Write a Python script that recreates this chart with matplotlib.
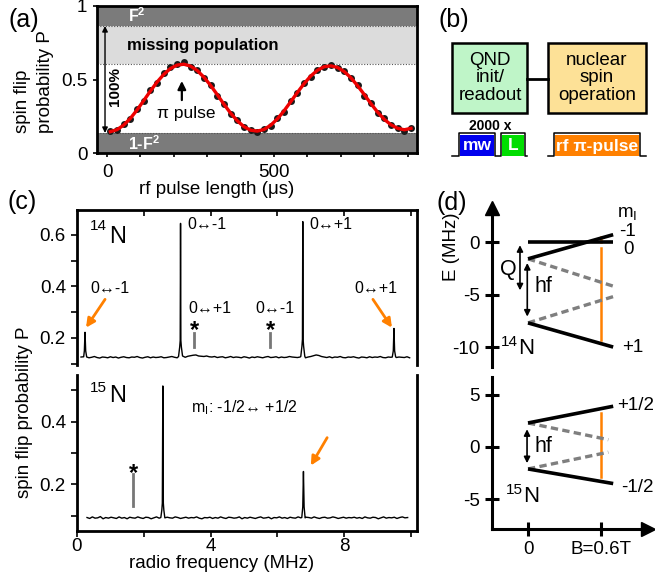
import numpy as np
import matplotlib
matplotlib.use("Agg")
import matplotlib.pyplot as plt
from matplotlib.patches import Rectangle
from matplotlib.ticker import MultipleLocator, FixedLocator

plt.rcParams["font.family"] = ["Liberation Sans", "DejaVu Sans"]
plt.rcParams["mathtext.fontset"] = "custom"
plt.rcParams["mathtext.rm"] = "Liberation Sans"
plt.rcParams["mathtext.it"] = "Liberation Sans:italic"
plt.rcParams["mathtext.bf"] = "Liberation Sans:bold"

# ---------------- data ----------------
# (a) Rabi oscillation of nuclear spin
pulse_t = list(range(10, 911, 20))
pulse_dots = [0.150, 0.155, 0.196, 0.233, 0.301, 0.351, 0.426, 0.476, 0.541, 0.585,
              0.604, 0.619, 0.588, 0.568, 0.510, 0.465, 0.389, 0.336, 0.266, 0.225,
              0.175, 0.158, 0.143, 0.165, 0.182, 0.236, 0.282, 0.355, 0.409, 0.477,
              0.518, 0.567, 0.584, 0.599, 0.577, 0.561, 0.508, 0.464, 0.391, 0.340,
              0.273, 0.235, 0.188, 0.173, 0.152, 0.172]
pulse_fit = [0.145, 0.159, 0.190, 0.236, 0.293, 0.357, 0.422, 0.483, 0.535, 0.575,
             0.598, 0.604, 0.591, 0.561, 0.516, 0.460, 0.397, 0.332, 0.271, 0.219,
             0.179, 0.155, 0.149, 0.160, 0.189, 0.232, 0.287, 0.349, 0.412, 0.472,
             0.524, 0.563, 0.587, 0.593, 0.582, 0.554, 0.512, 0.458, 0.398, 0.336,
             0.278, 0.229, 0.192, 0.168, 0.158, 0.168]
level_low = 0.136     # 1-F^2
level_pop = 0.605     # max observed
level_high = 0.864    # F^2
pi_pulse_t = 224

# (c) nuclear spin spectra, 14N (top)
f14_start, f14_stop, n14 = 0.12, 9.96, 124
base14_milli = [126, 124, 127, 123, 125, 128, 124, 122, 126, 125, 123, 127, 124, 126, 122, 125, 127, 124, 123, 126,
                125, 128, 124, 122, 125, 127, 123, 126, 124, 125, 127, 123, 124, 126, 128, 125, 123, 124, 126, 125,
                129, 131, 133, 134, 130, 129, 128, 130, 127, 126, 128, 124, 126, 127, 123, 125, 128, 124, 126, 125,
                123, 127, 125, 122, 126, 124, 127, 125, 123, 126, 128, 124, 125, 127, 123, 126, 124, 125, 128, 126,
                125, 124, 126, 125, 123, 126, 128, 131, 134, 132, 128, 126, 124, 127, 123, 126, 125, 128, 124, 123,
                126, 125, 127, 124, 122, 126, 125, 123, 127, 124, 126, 125, 128, 124, 123, 126, 125, 127, 124, 126,
                125, 124, 127, 123]
peaks14_center = [0.24, 3.10, 6.76, 9.49]
peaks14_halfwidth = [0.06, 0.07, 0.07, 0.06]
peaks14_f = [0.20, 0.22, 0.24, 0.26, 0.29,
             3.04, 3.075, 3.09, 3.10, 3.11, 3.125, 3.16,
             6.70, 6.735, 6.75, 6.76, 6.77, 6.785, 6.82,
             9.44, 9.47, 9.49, 9.51, 9.54]
peaks14_p = [0.127, 0.150, 0.222, 0.150, 0.126,
             0.128, 0.165, 0.190, 0.645, 0.190, 0.165, 0.130,
             0.128, 0.168, 0.195, 0.652, 0.195, 0.168, 0.129,
             0.126, 0.150, 0.237, 0.150, 0.127]

# 15N (bottom)
f15_start, f15_stop, n15 = 0.30, 9.90, 121
base15_milli = [94, 91, 96, 92, 93, 97, 90, 94, 92, 95, 93, 91, 96, 92, 94, 90, 95, 93, 92, 96,
                93, 91, 95, 94, 90, 93, 96, 92, 94, 91, 95, 93, 92, 96, 94, 91, 93, 95, 92, 94,
                93, 96, 92, 90, 94, 93, 95, 91, 94, 92, 96, 93, 91, 95, 94, 92, 93, 96, 90, 94,
                92, 95, 93, 91, 94, 96, 92, 93, 95, 90, 94, 93, 96, 92, 94, 91, 95, 93, 92, 96,
                93, 91, 95, 94, 92, 96, 93, 91, 94, 95, 92, 93, 96, 94, 91, 93, 95, 92, 94, 93,
                95, 92, 94, 91, 96, 93, 92, 95, 94, 90, 93, 96, 92, 94, 93, 95, 91, 94, 96, 93,
                94]
peaks15_center = [2.57, 6.78]
peaks15_halfwidth = [0.07, 0.06]
peaks15_f = [2.51, 2.54, 2.555, 2.57, 2.585, 2.60, 2.63,
             6.73, 6.76, 6.78, 6.80, 6.83]
peaks15_p = [0.094, 0.118, 0.140, 0.514, 0.140, 0.118, 0.093,
             0.094, 0.128, 0.241, 0.128, 0.093]

# (d) energy levels (E in MHz) at B = 0 and at the end of the drawn range
B_end = [0.0, 0.70]
B_dash_end = [0.0, 0.66]
E14_m0 = [0.0, 0.0]
E14_mminus = [-1.6, 0.7]
E14_mplus = [-7.7, -10.0]
E14_dash1 = [-1.6, -4.2]
E14_dash2 = [-7.7, -5.2]
E15_up = [2.3, 3.9]
E15_dn = [-2.1, -3.5]
E15_dash1 = [2.3, 0.7]
E15_dash2 = [-2.1, -0.5]
B_rf = 0.6

# ---------------- figure ----------------
W, H = 655, 576
fig = plt.figure(figsize=(W / 100, H / 100), dpi=100)


def fax(x0, y0, x1, y1):
    return fig.add_axes([x0 / W, 1 - y1 / H, (x1 - x0) / W, (y1 - y0) / H])


def ptext(x, y, s, **kw):
    kw.setdefault("ha", "center")
    kw.setdefault("va", "center")
    return fig.text(x / W, 1 - y / H, s, **kw)


ORANGE = "#ff8000"
TICK = 13.5

# ---------- panel (a) ----------
axa = fax(97, 6, 417, 153)
axa.set_xlim(-30, 928)
axa.set_ylim(0, 1)
axa.axhspan(0, level_low, color="#7b7b7b", lw=0, zorder=0)
axa.axhspan(level_high, 1, color="#7b7b7b", lw=0, zorder=0)
axa.axhspan(level_pop, level_high, color="#dcdcdc", lw=0, zorder=0)
for lv in (level_low, level_pop, level_high):
    axa.axhline(lv, color="#555555", lw=0.8, ls=(0, (1, 1.5)), zorder=1)
axa.plot(pulse_t, pulse_dots, "o", color="#1a1a1a", ms=5, mec="none", zorder=3)
axa.plot(pulse_t, pulse_fit, "-", color="#ee0000", lw=2.4, zorder=4)
axa.set_xticks([0, 500])
axa.xaxis.set_minor_locator(MultipleLocator(100))
axa.set_yticks([0, 0.5, 1])
axa.set_yticklabels(["0", "0.5", "1"])
axa.tick_params(axis="both", which="both", direction="out", length=3, width=1.2,
                labelsize=TICK)
axa.tick_params(axis="x", pad=5)
axa.tick_params(axis="y", pad=4)
for sp in axa.spines.values():
    sp.set_linewidth(2)
axa.text(63, 0.935, "F$^\\mathbf{2}$", color="white", fontsize=11.5, fontweight="bold",
         va="center")
axa.text(63, 0.065, "1-F$^\\mathbf{2}$", color="white", fontsize=11.5, fontweight="bold",
         va="center")
axa.text(60, 0.73, "missing population", fontsize=12, fontweight="bold", va="center")
axa.annotate("", xy=(-6, level_high), xytext=(-6, level_low),
             arrowprops=dict(arrowstyle="<|-|>", color="k", lw=1, mutation_scale=8,
                             shrinkA=0, shrinkB=0))
axa.text(24, 0.45, "100%", rotation=90, fontsize=11, fontweight="bold",
         ha="center", va="center")
axa.annotate("", xy=(pi_pulse_t, 0.49), xytext=(pi_pulse_t, 0.36),
             arrowprops=dict(arrowstyle="-|>", color="k", lw=1.6, mutation_scale=12,
                             shrinkA=0, shrinkB=0))
axa.text(236, 0.27, "π pulse", fontsize=12.5, ha="center", va="center")
ptext(24, 20, "(a)", fontsize=18)
ptext(34, 82, "spin flip\nprobability P", fontsize=TICK, rotation=90, linespacing=1.4,
      multialignment="left")
ptext(217, 189, "rf pulse length (μs)", fontsize=TICK)

# ---------- panel (b) ----------
axb = fax(420, 0, 655, 180)
axb.set_xlim(0, 235)
axb.set_ylim(180, 0)
axb.axis("off")
axb.add_patch(Rectangle((32.3, 42.7), 75, 70.6, fc="#bff5c8", ec="k", lw=1.8))
axb.add_patch(Rectangle((128.3, 42.7), 97.4, 70.6, fc="#fde197", ec="k", lw=1.8))
axb.plot([107.3, 128.3], [79, 79], color="k", lw=2)
axb.text(70, 78, "QND\ninit/\nreadout", ha="center", va="center", fontsize=13.5,
         linespacing=1.05)
axb.text(177, 78, "nuclear\nspin\noperation", ha="center", va="center", fontsize=13.5,
         linespacing=1.05)
axb.add_patch(Rectangle((40, 135), 34, 21, fc="#0000ee", ec="none"))
axb.add_patch(Rectangle((82, 135), 22, 21, fc="#00dd00", ec="none"))
axb.add_patch(Rectangle((135, 135), 83.5, 21, fc=ORANGE, ec="none"))
axb.plot([32.3, 39, 39, 75, 75, 81, 81, 105, 105, 107.3],
         [156, 156, 133, 133, 156, 156, 133, 133, 156, 156], color="k", lw=1.1)
axb.plot([128.3, 134, 134, 219.5, 219.5, 225.7],
         [156, 156, 133, 133, 156, 156], color="k", lw=1.1)
axb.text(70, 126, "2000 x", ha="center", va="center", fontsize=10, fontweight="bold")
axb.text(57, 146, "mw", ha="center", va="center", fontsize=12.5, fontweight="bold",
         color="white")
axb.text(93, 146, "L", ha="center", va="center", fontsize=12.5, fontweight="bold",
         color="white")
axb.text(177, 146, "rf π-pulse", ha="center", va="center", fontsize=12.5,
         fontweight="bold", color="white")
ptext(454, 20, "(b)", fontsize=18)


# ---------- panel (c) ----------
def build_spectrum(f0, f1, n, base_milli, centers, halfw, pf, pp):
    f = np.linspace(f0, f1, n)
    p = np.asarray(base_milli, dtype=float) / 1000.0
    keep = np.ones(n, dtype=bool)
    for c, hw in zip(centers, halfw):
        keep &= np.abs(f - c) >= hw
    ff = np.concatenate([f[keep], pf])
    pv = np.concatenate([p[keep], pp])
    order = np.argsort(ff)
    return ff[order], pv[order]


f14, p14 = build_spectrum(f14_start, f14_stop, n14, base14_milli, peaks14_center,
                          peaks14_halfwidth, peaks14_f, peaks14_p)
f15, p15 = build_spectrum(f15_start, f15_stop, n15, base15_milli, peaks15_center,
                          peaks15_halfwidth, peaks15_f, peaks15_p)

axc1 = fax(77, 210, 417, 365)
axc1.set_xlim(0, 10.18)
axc1.set_ylim(0.095, 0.697)
axc1.plot(f14, p14, color="k", lw=1.0)
axc1.spines["bottom"].set_visible(False)
for s in ("left", "right", "top"):
    axc1.spines[s].set_linewidth(2)
axc1.set_yticks([0.2, 0.4, 0.6])
axc1.set_yticklabels(["0.2", "0.4", "0.6"])
axc1.yaxis.set_minor_locator(MultipleLocator(0.1))
axc1.set_xticks([2, 4, 6, 8, 10])
axc1.tick_params(axis="x", which="both", top=True, bottom=False, labelbottom=False,
                 direction="in", length=4, width=1.2)
axc1.tick_params(axis="y", which="both", direction="out", length=4, width=1.2,
                 labelsize=TICK, pad=4)

axc1.text(3.30, 0.639, "0↔-1", fontsize=11.5, ha="left", va="center")
axc1.text(6.96, 0.639, "0↔+1", fontsize=11.5, ha="left", va="center")
axc1.text(0.99, 0.394, "0↔-1", fontsize=11.5, ha="center", va="center")
axc1.text(8.95, 0.394, "0↔+1", fontsize=11.5, ha="center", va="center")
axc1.text(3.97, 0.316, "0↔+1", fontsize=11.5, ha="center", va="center")
axc1.text(5.93, 0.316, "0↔-1", fontsize=11.5, ha="center", va="center")
for xm in (3.51, 5.78):
    axc1.plot([xm, xm], [0.165, 0.219], color="#777777", lw=2)
    axc1.text(xm + 0.02, 0.203, "*", fontsize=17, fontweight="bold", ha="center",
              va="baseline")
axc1.annotate("", xy=(0.27, 0.24), xytext=(0.84, 0.35),
              arrowprops=dict(arrowstyle="-|>", color=ORANGE, lw=2, mutation_scale=13,
                              shrinkA=0, shrinkB=0))
axc1.annotate("", xy=(9.43, 0.24), xytext=(8.86, 0.35),
              arrowprops=dict(arrowstyle="-|>", color=ORANGE, lw=2, mutation_scale=13,
                              shrinkA=0, shrinkB=0))
ptext(98, 226, "14", fontsize=11)
ptext(118, 237, "N", fontsize=17)
ptext(22, 202, "(c)", fontsize=18)

axc2 = fax(77, 375, 417, 531)
axc2.set_xlim(0, 10.18)
axc2.set_ylim(0.051, 0.549)
axc2.plot(f15, p15, color="k", lw=1.0)
axc2.spines["top"].set_visible(False)
for s in ("left", "right", "bottom"):
    axc2.spines[s].set_linewidth(2)
axc2.set_yticks([0.2, 0.4])
axc2.set_yticklabels(["0.2", "0.4"])
axc2.yaxis.set_minor_locator(MultipleLocator(0.1))
axc2.set_xticks([0, 4, 8])
axc2.set_xticklabels(["0", "4", "8"])
axc2.xaxis.set_minor_locator(FixedLocator([2, 6, 10]))
axc2.tick_params(axis="both", which="both", direction="out", length=4, width=1.2,
                 labelsize=TICK)
axc2.tick_params(axis="x", pad=1)
axc2.tick_params(axis="y", pad=4)
axc2.plot([1.69, 1.69], [0.130, 0.232], color="#777777", lw=2)
axc2.text(1.70, 0.215, "*", fontsize=17, fontweight="bold", ha="center", va="baseline")
axc2.annotate("", xy=(7.0, 0.26), xytext=(7.49, 0.349),
              arrowprops=dict(arrowstyle="-|>", color=ORANGE, lw=2, mutation_scale=13,
                              shrinkA=0, shrinkB=0))
axc2.text(3.41, 0.445, "m$_\\mathrm{I}$: -1/2↔ +1/2", fontsize=11.5, ha="left",
          va="center")
ptext(98, 388, "15", fontsize=11)
ptext(118, 396, "N", fontsize=17)
ptext(222, 563, "radio frequency (MHz)", fontsize=TICK)
ptext(25, 412, "spin flip probability P", fontsize=TICK, rotation=90)

# ---------- panel (d) ----------
LW_LVL = 2.6
DASH = dict(color="#7f7f7f", lw=2.4, dashes=(2.2, 1.3))

axd1 = fax(492, 208, 655, 367)
axd1.set_xlim(-0.296, 1.044)
axd1.set_ylim(-11.9, 3.24)
for s in ("right", "top", "bottom"):
    axd1.spines[s].set_visible(False)
axd1.spines["left"].set_linewidth(2.2)
axd1.set_xticks([])
axd1.set_yticks([0, -5, -10])
axd1.set_yticklabels(["0", "-5", "-10"])
axd1.tick_params(axis="y", direction="inout", length=10, width=2.2, labelsize=TICK,
                 pad=4)
axd1.plot([0], [1], marker="^", ms=10, color="k", transform=axd1.transAxes,
          clip_on=False)
axd1.plot([B_rf, B_rf], [0.5, 0.05], color=ORANGE, lw=1.8, zorder=1)
axd1.plot([B_rf, B_rf], [-0.55, -9.3], color=ORANGE, lw=1.8, zorder=1)
axd1.plot(B_end, E14_dash1, **DASH, zorder=2)
axd1.plot(B_end, E14_dash2, **DASH, zorder=2)
axd1.plot(B_end, E14_m0, color="k", lw=LW_LVL, zorder=3, solid_capstyle="butt")
axd1.plot(B_end, E14_mminus, color="k", lw=LW_LVL, zorder=3, solid_capstyle="butt")
axd1.plot(B_end, E14_mplus, color="k", lw=LW_LVL, zorder=3, solid_capstyle="butt")
arw = dict(arrowstyle="<|-|>", color="k", lw=1.2, mutation_scale=9, shrinkA=0, shrinkB=0)
axd1.annotate("", xy=(-0.066, -0.3), xytext=(-0.066, -4.6), arrowprops=arw)
axd1.annotate("", xy=(-0.006, -2.0), xytext=(-0.006, -7.1), arrowprops=arw)
ptext(508, 270, "Q", fontsize=15.5)
ptext(543, 287, "hf", fontsize=15.5)
ptext(627, 213, "m$_\\mathrm{I}$", fontsize=TICK)
ptext(628, 231, "-1", fontsize=TICK)
ptext(628, 249, "0", fontsize=TICK)
ptext(633, 347, "+1", fontsize=TICK)
ptext(509, 342, "14", fontsize=11)
ptext(526, 348, "N", fontsize=16)
ptext(452, 247, "E (MHz)", fontsize=TICK, rotation=90)
ptext(452, 203, "(d)", fontsize=18)

axd2 = fax(492, 377, 648, 529)
axd2.set_xlim(-0.296, 0.986)
axd2.set_ylim(-7.85, 6.7)
for s in ("right", "top"):
    axd2.spines[s].set_visible(False)
axd2.spines["left"].set_linewidth(2.2)
axd2.spines["bottom"].set_linewidth(2.2)
axd2.set_yticks([5, 0, -5])
axd2.set_yticklabels(["5", "0", "-5"])
axd2.set_xticks([0, B_rf])
axd2.set_xticklabels(["0", "B=0.6T"])
axd2.tick_params(axis="both", direction="inout", length=10, width=2.2, labelsize=TICK,
                 pad=4)
axd2.plot([1], [0], marker=">", ms=10, color="k", transform=axd2.transAxes,
          clip_on=False)
axd2.plot([B_rf, B_rf], [3.3, -2.9], color=ORANGE, lw=1.8, zorder=1)
axd2.plot(B_dash_end, E15_dash1, **DASH, zorder=2)
axd2.plot(B_dash_end, E15_dash2, **DASH, zorder=2)
axd2.plot(B_end, E15_up, color="k", lw=LW_LVL, zorder=3, solid_capstyle="butt")
axd2.plot(B_end, E15_dn, color="k", lw=LW_LVL, zorder=3, solid_capstyle="butt")
axd2.annotate("", xy=(-0.008, 1.7), xytext=(-0.008, -1.55), arrowprops=arw)
ptext(543, 447, "hf", fontsize=15.5)
ptext(636, 406, "+1/2", fontsize=TICK)
ptext(637, 487, "-1/2", fontsize=TICK)
ptext(514, 490, "15", fontsize=11)
ptext(531, 496, "N", fontsize=16)

fig.savefig("out.png", dpi=100)
